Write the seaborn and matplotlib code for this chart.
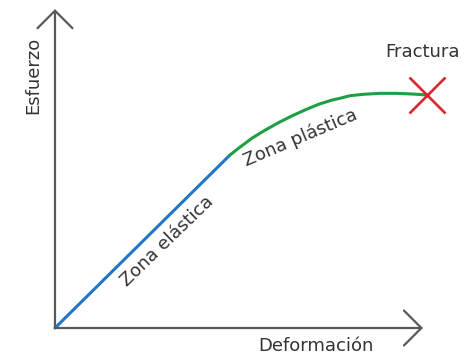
import matplotlib
matplotlib.use("Agg")
import matplotlib.pyplot as plt
import seaborn as sns
import pandas as pd

# Stress-strain curve (arbitrary units)
elastic_strain = [0.0, 4.70]
elastic_stress = [0.0, 7.39]
plastic_strain = [4.70, 4.93, 5.29, 5.65, 6.00, 6.36, 6.72, 7.08, 7.44,
                  7.66, 7.93, 8.29, 8.74, 9.19, 9.63, 9.99]
plastic_stress = [7.39, 7.68, 8.11, 8.46, 8.77, 9.06, 9.32, 9.56, 9.74,
                  9.82, 9.93, 9.99, 10.03, 10.03, 10.00, 9.96]
fracture_point = (9.99, 9.96)

labels = {
    "x": "Deformación",
    "y": "Esfuerzo",
    "elastic": "Zona elástica",
    "plastic": "Zona plástica",
    "fracture": "Fractura",
}

sns.set_theme(style="white")
plt.rcParams["font.family"] = ["DejaVu Sans"]

fig = plt.figure(figsize=(4.68, 3.55), dpi=100)
ax = fig.add_axes([0, 0, 1, 1])
ax.set_xlim(-1.478, 11.10)
ax.set_ylim(-1.154, 14.02)
ax.axis("off")

axis_color = "#595959"
text_color = "#333333"

# axes drawn as arrows
arrow_kw = dict(arrowstyle="->,head_length=0.9,head_width=0.9",
                color=axis_color, lw=1.6, mutation_scale=14,
                shrinkA=0, shrinkB=0)
ax.annotate("", xy=(9.89, 0), xytext=(0, 0), arrowprops=arrow_kw)
ax.annotate("", xy=(0, 13.63), xytext=(0, 0), arrowprops=arrow_kw)

elastic = pd.DataFrame({"strain": elastic_strain, "stress": elastic_stress})
plastic = pd.DataFrame({"strain": plastic_strain, "stress": plastic_stress})
sns.lineplot(data=elastic, x="strain", y="stress", ax=ax, color="#2176C7",
             lw=2.2, sort=False, estimator=None)
sns.lineplot(data=plastic, x="strain", y="stress", ax=ax, color="#1E9E45",
             lw=2.2, sort=False, estimator=None)
ax.plot([fracture_point[0]], [fracture_point[1]], marker="x", ms=26,
        mew=1.9, color="#D8262E", linestyle="none")

fs = 13
ax.text(9.87, 11.79, labels["fracture"], ha="center", va="center",
        fontsize=fs, color=text_color)
ax.text(-0.59, 10.81, labels["y"], ha="center", va="center", rotation=90,
        fontsize=fs, color=text_color)
ax.text(7.02, -0.77, labels["x"], ha="center", va="center",
        fontsize=fs, color=text_color)
ax.text(3.01, 3.72, labels["elastic"], ha="center", va="center", rotation=44,
        rotation_mode="anchor", fontsize=fs, color=text_color)
ax.text(6.59, 8.12, labels["plastic"], ha="center", va="center", rotation=23,
        rotation_mode="anchor", fontsize=fs, color=text_color)

fig.savefig("out.png", dpi=100)
